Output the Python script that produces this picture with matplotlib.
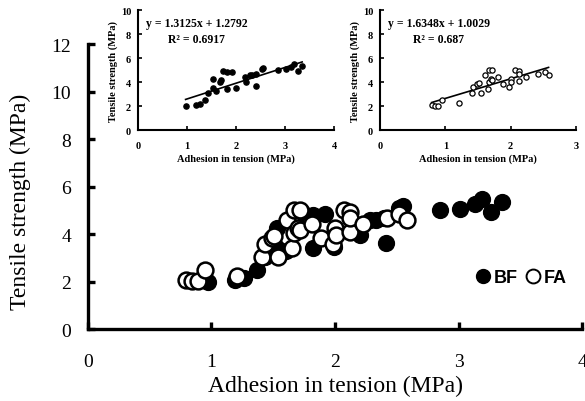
import numpy as np
import matplotlib
matplotlib.use("Agg")
import matplotlib.pyplot as plt
from matplotlib.lines import Line2D

# BF (filled) adhesion / tensile strength, MPa
bf_x = [0.97, 1.19, 1.26, 1.37, 1.43, 1.52, 1.53, 1.60, 1.67, 1.70, 1.73, 1.82, 1.92,
        1.82, 1.99, 2.18, 2.20, 2.28, 2.33, 2.41, 2.40, 2.52, 2.55, 2.85, 3.01, 3.13,
        3.19, 3.26, 3.35]
bf_y = [2.00, 2.08, 2.14, 2.50, 3.05, 3.47, 4.25, 3.28, 4.03, 4.17, 4.94, 4.80, 4.86,
        3.42, 3.47, 4.39, 3.97, 4.58, 4.58, 3.64, 4.67, 5.08, 5.20, 5.03, 5.06, 5.27,
        5.49, 4.92, 5.36]

# FA (open) adhesion / tensile strength, MPa
fa_x = [0.79, 0.84, 0.89, 0.95, 1.21, 1.41, 1.43, 1.49, 1.51, 1.54, 1.61, 1.65, 1.67,
        1.67, 1.70, 1.72, 1.72, 1.81, 1.89, 1.98, 2.00, 2.01, 2.07, 2.12, 2.12, 2.12,
        2.23, 2.42, 2.52, 2.58]
fa_y = [2.08, 2.03, 2.03, 2.50, 2.25, 3.05, 3.56, 3.83, 3.92, 3.05, 4.58, 3.42, 5.00,
        4.03, 4.25, 5.00, 4.17, 4.44, 3.83, 3.56, 4.25, 3.97, 5.00, 4.94, 4.10, 4.67,
        4.44, 4.67, 4.86, 4.58]

bf_fit = (1.3125, 1.2792, 0.6917)
fa_fit = (1.6348, 1.0029, 0.687)

serif = "Liberation Serif"
sans = "Liberation Sans"

fig = plt.figure(figsize=(5.85, 4.02), dpi=100)

# main chart
ax = fig.add_axes([0.1504, 0.179, 0.8445, 0.709])
ax.scatter(bf_x, bf_y, s=130, c="black", edgecolors="black", zorder=3, label="BF")
ax.scatter(fa_x, fa_y, s=130, c="white", edgecolors="black", linewidths=1.8, zorder=4, label="FA")
ax.set_xlim(0, 4)
ax.set_ylim(0, 12)
ax.set_xticks([0, 1, 2, 3, 4])
ax.set_yticks(range(0, 13, 2))
for s in ["top", "right"]:
    ax.spines[s].set_visible(False)
for s in ["left", "bottom"]:
    ax.spines[s].set_linewidth(2.4)
ax.tick_params(direction="in", length=5, width=2.4, labelsize=14)
ax.tick_params(axis="x", pad=17)
ax.tick_params(axis="y", pad=12)
for lab in ax.get_xticklabels() + ax.get_yticklabels():
    lab.set_fontfamily(serif)
ax.set_xlabel("Adhesion in tension (MPa)", fontfamily=serif, fontsize=17, labelpad=4)
ax.set_ylabel("Tensile strength (MPa)", fontfamily=serif, fontsize=17)
ax.yaxis.set_label_coords(-0.115, 0.45)

handles = [Line2D([], [], marker="o", ls="", mfc="black", mec="black", ms=10),
           Line2D([], [], marker="o", ls="", mfc="white", mec="black", mew=1.4, ms=10)]
ax.legend(handles, ["BF", "FA"], ncol=2, frameon=False, loc="center left",
          bbox_to_anchor=(0.748, 0.18), handletextpad=0.1, columnspacing=0.35,
          handlelength=1.0, prop={"family": sans, "weight": "bold", "size": 13})


def inset(rect, xs, ys, fit, xmax, filled):
    a = fig.add_axes(rect)
    if filled:
        a.scatter(xs, ys, s=14, c="black", zorder=3)
    else:
        a.scatter(xs, ys, s=14, c="white", edgecolors="black", linewidths=0.9, zorder=3)
    k, b, r2 = fit
    lx = np.array([min(xs), max(xs)])
    a.plot(lx, k * lx + b, color="black", lw=1.2, zorder=2)
    a.set_xlim(0, xmax)
    a.set_ylim(0, 10)
    a.set_xticks(range(0, xmax + 1))
    a.set_yticks(range(0, 11, 2))
    for s in ["top", "right"]:
        a.spines[s].set_visible(False)
    for s in ["left", "bottom"]:
        a.spines[s].set_linewidth(1.5)
    a.tick_params(direction="in", length=3, width=1.2, labelsize=7.5)
    a.tick_params(axis="x", pad=8)
    a.tick_params(axis="y", pad=5)
    for lab in a.get_xticklabels() + a.get_yticklabels():
        lab.set_fontfamily(serif)
        lab.set_fontweight("bold")
    a.set_xlabel("Adhesion in tension (MPa)", fontfamily=serif, fontweight="bold",
                  fontsize=7.5, labelpad=2)
    a.set_ylabel("Tensile strength (MPa)", fontfamily=serif, fontweight="bold",
                  fontsize=7.5, labelpad=2)
    a.text(0.04, 0.89, "y = %.4fx + %.4f" % (k, b), transform=a.transAxes,
           fontfamily=serif, fontweight="bold", fontsize=8.5, va="center")
    a.text(0.30, 0.76, "R\u00b2 = %s" % r2, transform=a.transAxes, ha="center",
           fontfamily=serif, fontweight="bold", fontsize=8.5, va="center")
    return a


inset([0.236, 0.674, 0.335, 0.2985], bf_x, bf_y, bf_fit, 4, True)
inset([0.6496, 0.674, 0.335, 0.2985], fa_x, fa_y, fa_fit, 3, False)

fig.savefig("out.png", dpi=100)
